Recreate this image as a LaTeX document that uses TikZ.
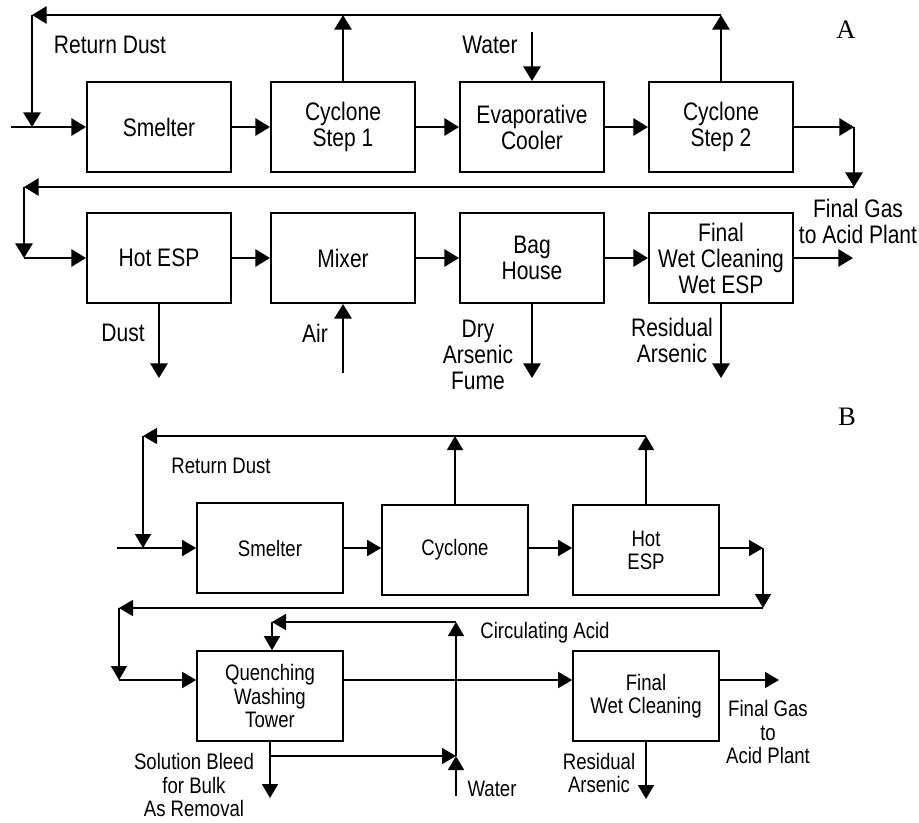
\documentclass[tikz,border=0pt]{standalone}
\usepackage{fontspec}
\setmainfont{Liberation Sans}[FakeStretch=0.83]
\newfontfamily\serifletter{Liberation Serif}
\usetikzlibrary{arrows.meta}
\begin{document}
\begin{tikzpicture}[x=0.75pt,y=-0.75pt,
  boxA/.style={draw,line width=1.5pt,minimum width=108pt,minimum height=67.5pt,inner sep=0pt,align=center,font=\fontsize{19}{19.5}\selectfont},
  boxB/.style={draw,line width=1.2pt,minimum width=109.5pt,minimum height=67.5pt,inner sep=0pt,align=center,font=\fontsize{16.8}{17.3}\selectfont},
  arrA/.style={line width=1.5pt,-{Triangle[length=11pt,width=13pt]}},
  arrB/.style={line width=1.2pt,-{Triangle[length=10.5pt,width=12pt]}},
  lblA/.style={inner sep=0pt,align=center,font=\fontsize{19}{19.5}\selectfont},
  lblB/.style={inner sep=0pt,align=center,font=\fontsize{16.8}{17.3}\selectfont},
  letter/.style={inner sep=0pt,font=\serifletter\fontsize{20}{22}\selectfont}]
\path[use as bounding box] (0,0) rectangle (919,822);

% ---------------- Part A ----------------
\node[boxA] (sm) at (159,127) {Smelter};
\node[boxA] (c1) at (343,127) {Cyclone\\Step 1};
\node[boxA] (ev) at (532,127) {Evaporative\\Cooler};
\node[boxA] (c2) at (721,127) {Cyclone\\Step 2};
\node[boxA] (he) at (159,258) {Hot ESP};
\node[boxA] (mx) at (343,258) {Mixer};
\node[boxA] (bh) at (532,258) {Bag\\House};
\node[boxA] (fw) at (721,258) {Final\\Wet Cleaning\\Wet ESP};

\coordinate (inA) at (11,127);
\coordinate (rdA) at (32,127);
\coordinate (tlA) at (32,15);
\coordinate (wA) at (532,32);
\coordinate (c2o) at (854,127);
\coordinate (rrA) at (854,187);
\coordinate (rlA) at (24,187);
\coordinate (rdA2) at (24,258);
\coordinate (dustA) at (159,378);
\coordinate (airA) at (343,373);
\coordinate (dryA) at (532,378);
\coordinate (resA) at (721,378);
\coordinate (gasA) at (853,258);

\node[letter] (labA) at (846,30) {A};
\node[lblA] (tRD) at (110,45) {Return Dust};
\node[lblA] (tW) at (490,45) {Water};
\node[lblA] (tDust) at (123,333) {Dust};
\node[lblA] (tAir) at (315,333) {Air};
\node[lblA] (tDry) at (478,355) {Dry\\Arsenic\\Fume};
\node[lblA] (tRes) at (672,340) {Residual\\Arsenic};
\node[lblA] (tGas) at (858,221) {Final Gas\\to Acid Plant};

\draw[arrA] (inA) -- (sm.west);
\draw[arrA] (sm.east) -- (c1.west);
\draw[arrA] (c1.east) -- (ev.west);
\draw[arrA] (ev.east) -- (c2.west);
\draw[arrA] (c1.north) -- (c1.north |- tlA);
\draw[arrA] (c2.north) -- (c2.north |- tlA);
\draw[arrA] (c2.north |- tlA) -- (tlA);
\draw[arrA] (tlA) -- (rdA);
\draw[arrA] (wA) -- (ev.north);
\draw[arrA] (c2.east) -- (c2o);
\draw[arrA] (c2o) -- (rrA);
\draw[arrA] (rrA) -- (rlA);
\draw[arrA] (rlA) -- (rdA2);
\draw[arrA] (rdA2) -- (he.west);
\draw[arrA] (he.east) -- (mx.west);
\draw[arrA] (mx.east) -- (bh.west);
\draw[arrA] (bh.east) -- (fw.west);
\draw[arrA] (fw.east) -- (gasA);
\draw[arrA] (he.south) -- (dustA);
\draw[arrA] (airA) -- (mx.south);
\draw[arrA] (bh.south) -- (dryA);
\draw[arrA] (fw.south) -- (resA);

% ---------------- Part B ----------------
\node[boxB] (smB) at (270,548) {Smelter};
\node[boxB] (cyB) at (455,550) {Cyclone};
\node[boxB] (heB) at (646,550) {Hot\\ESP};
\node[boxB] (qw) at (270,696) {Quenching\\Washing\\Tower};
\node[boxB] (fwB) at (646,696) {Final\\Wet Cleaning};

\coordinate (inB) at (117,548);
\coordinate (rdB) at (143,548);
\coordinate (tlB) at (143,436);
\coordinate (hoB) at (763,548);
\coordinate (rrB) at (763,608);
\coordinate (rlB) at (119,608);
\coordinate (rdB2) at (119,680);
\coordinate (gasB) at (779,680);
\coordinate (bleedB) at (270,798);
\coordinate (brB) at (270,756);
\coordinate (jB) at (456,756);
\coordinate (wB) at (456,796);
\coordinate (caT) at (456,622);
\coordinate (caL) at (272,622);
\coordinate (resB) at (646,799);

\node[letter] (labB) at (847,417) {B};
\node[lblB] (tRDB) at (221,466) {Return Dust};
\node[lblB] (tCA) at (545,633) {Circulating Acid};
\node[lblB] (tWB) at (492,789) {Water};
\node[lblB] (tSB) at (194,785) {Solution Bleed\\for Bulk\\As Removal};
\node[lblB] (tGasB) at (768,732) {Final Gas\\to\\Acid Plant};
\node[lblB] (tResB) at (599,773) {Residual\\Arsenic};

\draw[arrB] (inB) -- (smB.west);
\draw[arrB] (smB.east) -- (cyB.west |- smB.east);
\draw[arrB] (cyB.east |- smB.east) -- (heB.west |- smB.east);
\draw[arrB] (cyB.north) -- (cyB.north |- tlB);
\draw[arrB] (heB.north) -- (heB.north |- tlB);
\draw[arrB] (heB.north |- tlB) -- (tlB);
\draw[arrB] (tlB) -- (rdB);
\draw[arrB] (heB.east |- hoB) -- (hoB);
\draw[arrB] (hoB) -- (rrB);
\draw[arrB] (rrB) -- (rlB);
\draw[arrB] (rlB) -- (rdB2);
\draw[arrB] (rdB2) -- (qw.west |- rdB2);
\draw[arrB] (qw.east |- rdB2) -- (fwB.west |- rdB2);
\draw[arrB] (fwB.east |- rdB2) -- (gasB);
\draw[arrB] (qw.south) -- (bleedB);
\draw[arrB] (brB) -- (jB);
\draw[arrB] (wB) -- (jB);
\draw[arrB] (jB) -- (caT);
\draw[arrB] (caT) -- (caL);
\draw[arrB] (caL) -- (caL |- qw.north);
\draw[arrB] (fwB.south) -- (resB);
\end{tikzpicture}
\end{document}
